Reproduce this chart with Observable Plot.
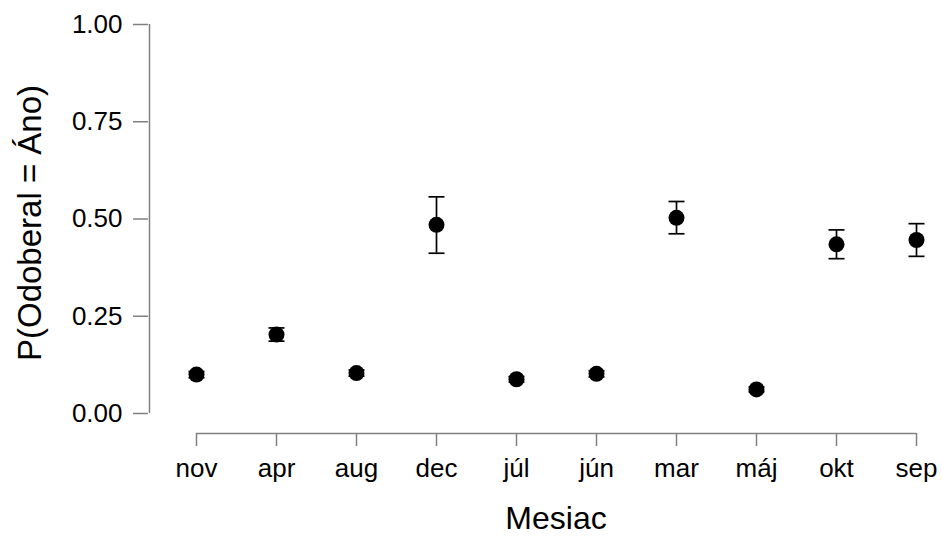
<!DOCTYPE html>
<html>
<head>
<meta charset="utf-8">
<script src="https://cdn.jsdelivr.net/npm/d3@7"></script>
<script src="https://cdn.jsdelivr.net/npm/@observablehq/plot@0.6"></script>
<style>
  html, body { margin: 0; padding: 0; background: #fff; }
</style>
</head>
<body>
<div id="chart"></div>
<script>
// Categories (x axis order as shown)
const months = ["nov", "apr", "aug", "dec", "júl", "jún", "mar", "máj", "okt", "sep"];
// Estimated probabilities P(Odoberal = Áno)
const estimate = [0.100, 0.203, 0.104, 0.485, 0.088, 0.102, 0.503, 0.062, 0.435, 0.446];
// Lower / upper bounds of the error bars
const lower = [0.092, 0.186, 0.096, 0.412, 0.081, 0.094, 0.462, 0.056, 0.398, 0.404];
const upper = [0.108, 0.220, 0.112, 0.557, 0.095, 0.110, 0.545, 0.068, 0.472, 0.488];
// Y axis ticks
const yTicks = [0, 0.25, 0.5, 0.75, 1];
const xTitle = "Mesiac";
const yTitle = "P(Odoberal = Áno)";

const data = months.map((m, i) => ({month: m, est: estimate[i], lo: lower[i], hi: upper[i]}));

const axisColor = "#808080";
const font = "'Liberation Sans', Arial, Helvetica, sans-serif";

// horizontal cap symbol for the error bars
const capSymbol = {
  draw(context, size) {
    const h = 8;
    context.moveTo(-h, 0);
    context.lineTo(h, 0);
  }
};

const chart = Plot.plot({
  width: 942,
  height: 536,
  marginLeft: 195,
  marginRight: 26,
  marginTop: 24,
  marginBottom: 123,
  style: {fontFamily: font, fontSize: "26px", color: "#000", background: "#fff"},
  x: {type: "point", domain: months, padding: 0},
  y: {domain: [0, 1]},
  marks: [
    // y axis line (offset to the left)
    Plot.ruleX([months[0]], {x: d => d, y1: () => yTicks[0], y2: () => yTicks[yTicks.length - 1], dx: -47, stroke: axisColor, strokeWidth: 1.5}),
    // x axis line (offset below)
    Plot.ruleY([yTicks[0]], {y: d => d, x1: () => months[0], x2: () => months[months.length - 1], dy: 20, stroke: axisColor, strokeWidth: 1.5}),
    Plot.axisY({anchor: "left", ticks: yTicks, tickFormat: d3.format(".2f"), dx: -47, tickSize: 15, tickPadding: 11, stroke: axisColor, strokeWidth: 1.5, fill: "#000", fontSize: 26, label: null}),
    Plot.axisX({anchor: "bottom", dy: 20, tickSize: 13, tickPadding: 12, stroke: axisColor, strokeWidth: 1.5, fill: "#000", fontSize: 26, label: null}),
    // titles
    Plot.text([xTitle], {text: d => d, frameAnchor: "bottom", textAnchor: "middle", lineAnchor: "top", dy: 93, fontSize: 32, fill: "#000"}),
    Plot.text([yTitle], {text: d => d, frameAnchor: "left", textAnchor: "middle", rotate: -90, lineAnchor: "top", dx: -178, dy: 4, fontSize: 33, fill: "#000"}),
    // error bars
    Plot.ruleX(data, {x: "month", y1: "lo", y2: "hi", stroke: "#000", strokeWidth: 1.7}),
    Plot.dot(data, {x: "month", y: "lo", symbol: capSymbol, fill: "none", stroke: "#000", strokeWidth: 1.7}),
    Plot.dot(data, {x: "month", y: "hi", symbol: capSymbol, fill: "none", stroke: "#000", strokeWidth: 1.7}),
    // points
    Plot.dot(data, {x: "month", y: "est", r: 8, fill: "#000", stroke: null})
  ]
});
document.getElementById("chart").appendChild(chart);
</script>
</body>
</html>
